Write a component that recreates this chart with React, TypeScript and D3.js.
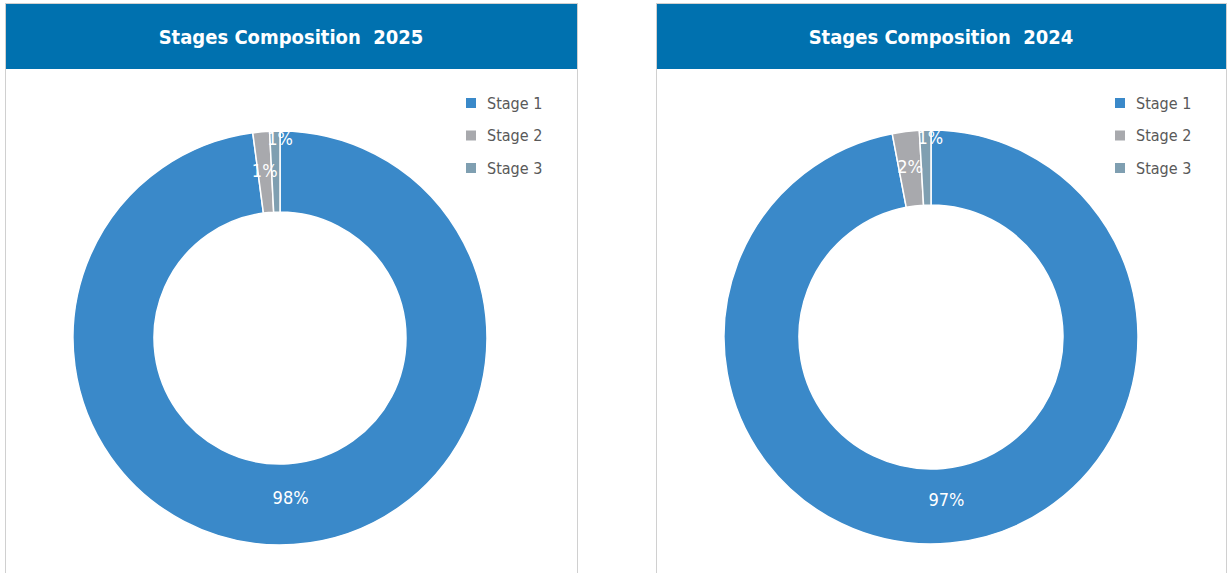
import React from 'react';
import * as d3 from 'd3';

const stages = ['Stage 1', 'Stage 2', 'Stage 3'];
const colors = ['#3A89C9', '#A8A9AD', '#7F9FB1'];
const years = ['2025', '2024'];
const values2025 = [97.9, 1.3, 0.8];
const values2024 = [97.0, 2.1, 0.9];

const FONT = '"Liberation Sans Narrow", "DejaVu Sans Condensed", "Noto Sans", sans-serif';

type PanelProps = { x: number; w: number; year: string; values: number[]; cx: number; cy: number; outer: number; inner: number };

const Panel = ({ x, w, year, values, cx, cy, outer, inner }: PanelProps) => {
  const pie = d3.pie<number>().sort(null).value(d => d);
  const arcs = pie(values);
  const arc = d3.arc<d3.PieArcDatum<number>>().innerRadius(inner).outerRadius(outer);
  const mid = (inner + outer) / 2;

  // small slices: first sits in the ring, the next gets pushed toward the rim
  let smallCount = 0;
  const labelPos = arcs.map(a => {
    const ang = (a.startAngle + a.endAngle) / 2;
    let r = mid - 6;
    let dx = 0;
    if (a.endAngle - a.startAngle < 0.3) {
      if (smallCount % 2 === 0) {
        r = mid + 2;
      } else {
        r = outer - 8;
        dx = 5;
      }
      smallCount++;
    }
    return [r * Math.sin(ang) + dx, -r * Math.cos(ang)];
  });

  return (
    <g>
      <rect x={x + 0.5} y={3.5} width={w} height={600} fill="#fff" stroke="#D0D0D0" />
      <rect x={x + 1} y={4} width={w - 1} height={65} fill="#0071AF" />
      <text x={x + w / 2} y={44} textAnchor="middle" fill="#fff" fontSize={20} fontWeight="bold" fontFamily={FONT}>
        {'Stages Composition\u00a0\u00a0' + year}
      </text>
      <g transform={`translate(${cx},${cy})`}>
        {arcs.map((a, i) => (
          <path key={i} d={arc(a) || ''} fill={colors[i]} stroke="#fff" strokeWidth={1.5} />
        ))}
        {arcs.map((a, i) => (
          <text key={'l' + i} x={labelPos[i][0]} y={labelPos[i][1]} dy="0.35em" textAnchor="middle" fill="#fff" fontSize={18} fontFamily={FONT}>
            {Math.round(a.data) + '%'}
          </text>
        ))}
      </g>
      {stages.map((s, i) => (
        <g key={s} transform={`translate(${x + w - 111},${103 + i * 32.5})`}>
          <rect x={0} y={-5} width={10} height={10} fill={colors[i]} />
          <text x={21} y={0} dy="0.35em" fill="#595959" fontSize={16} fontFamily={FONT}>{s}</text>
        </g>
      ))}
    </g>
  );
};

export default function App() {
  return (
    <svg width={1232} height={573} style={{ display: 'block', position: 'absolute', left: 0, top: 0 }}>
      <rect width={1232} height={573} fill="#fff" />
      <Panel x={5} w={572} year={years[0]} values={values2025} cx={280} cy={338} outer={207} inner={126} />
      <Panel x={656} w={570} year={years[1]} values={values2024} cx={931} cy={337} outer={207} inner={132} />
    </svg>
  );
}
